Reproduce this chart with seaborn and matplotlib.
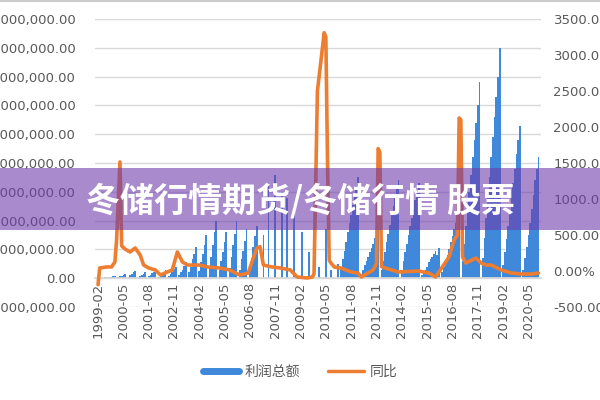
import numpy as np
import pandas as pd
import matplotlib
matplotlib.use("Agg")
import matplotlib.pyplot as plt
import seaborn as sns
from matplotlib.lines import Line2D
from matplotlib.patches import Rectangle
from matplotlib.ticker import FuncFormatter

nan = np.nan

# ---------------- data ----------------
START = "1999-02"
# 利润总额 (in millions), monthly; 1999 list starts in February, others Jan..Dec
profit_1999 = [nan, 0.01, 0.02, 0.02, 0.03, nan, 0.02, 0.04, 0.05, 0.06, 0.08]
profit_2000 = [nan, 0.03, 0.06, 0.09, 0.12, 0.15, nan, 0.05, 0.10, 0.15, 0.20, 0.25]
profit_2001 = [nan, 0.04, 0.08, 0.12, 0.16, 0.20, nan, 0.06, 0.11, 0.17, 0.22, 0.28]
profit_2002 = [nan, 0.05, 0.10, 0.15, 0.22, 0.30, nan, 0.07, 0.15, 0.23, 0.31, 0.40]
profit_2003 = [nan, 0.10, 0.20, 0.30, 0.42, 0.55, nan, 0.20, 0.40, 0.65, 0.85, 1.10]
profit_2004 = [nan, 0.25, 0.55, 0.85, 1.15, 1.50, nan, 0.35, 0.75, 1.15, 1.60, 2.00]
profit_2005 = [nan, 0.30, 0.60, 0.90, 1.25, 1.60, nan, 0.35, 0.75, 1.15, 1.55, 2.00]
profit_2006 = [nan, 0.30, 0.65, 0.95, 1.30, 1.70, nan, 0.30, 0.70, 1.10, 1.45, 1.80]
profit_2007 = [nan, nan, nan, 1.50, nan, nan, 3.30, nan, nan, nan, 3.60, nan]
profit_2008 = [nan, nan, 3.00, nan, nan, 2.80, nan, nan, nan, 2.50, nan, nan]
profit_2009 = [nan, nan, 1.60, nan, nan, nan, 0.90, nan, nan, nan, nan, nan]
profit_2010 = [0.40, nan, nan, nan, 1.70, nan, nan, 0.30, nan, nan, nan, 0.50]
profit_2011 = [nan, 0.35, 0.65, 0.95, 1.25, 1.60, 1.90, 2.20, 2.55, 2.85, 3.20, 3.50]
profit_2012 = [nan, 0.15, 0.30, 0.45, 0.60, 0.75, 0.90, 1.05, 1.20, 1.40, 1.60, 1.80]
profit_2013 = [nan, 0.30, 0.60, 0.90, 1.25, 1.55, 1.85, 2.20, 2.50, 2.80, 3.10, 3.40]
profit_2014 = [nan, 0.30, 0.60, 0.90, 1.20, 1.50, 1.80, 2.10, 2.40, 2.70, 3.00, 3.30]
profit_2015 = [nan, 0.10, 0.20, 0.30, 0.40, 0.55, 0.65, 0.75, 0.85, 0.95, 0.80, 1.05]
profit_2016 = [nan, 0.20, 0.40, 0.60, 0.80, 1.00, 1.25, 1.45, 1.70, 1.90, 2.10, 2.30]
profit_2017 = [nan, 0.60, 1.20, 1.80, 2.40, 3.00, 3.60, 4.20, 4.80, 5.40, 6.00, 6.80]
profit_2018 = [nan, 0.70, 1.40, 2.10, 2.80, 3.50, 4.20, 4.90, 5.60, 6.30, 7.00, 8.00]
profit_2019 = [nan, 0.45, 0.90, 1.35, 1.80, 2.30, 2.80, 3.30, 3.80, 4.30, 4.80, 5.30]
profit_2020 = [nan, 0.30, 0.70, 1.10, 1.50, 1.90, 2.40, 2.90, 3.40, 3.80, 4.20, nan]

# 同比 (%)
yoy_months = ["1999-02", "1999-03", "1999-07", "1999-10", "1999-12", "2000-01", "2000-03",
              "2000-04", "2000-06", "2000-09", "2000-12", "2001-03", "2001-05", "2001-08",
              "2001-12", "2002-03", "2002-07", "2002-10", "2003-01", "2003-04", "2003-07",
              "2004-02", "2004-07", "2005-02", "2005-08", "2006-02", "2006-07", "2006-12",
              "2007-02", "2007-04", "2007-09", "2008-02", "2008-08", "2008-12", "2009-06",
              "2009-09", "2009-10", "2009-12", "2010-02", "2010-04", "2010-05", "2010-06",
              "2010-07", "2010-08", "2010-10", "2011-02", "2011-08", "2011-12", "2012-02",
              "2012-06", "2012-09", "2012-11", "2012-12", "2013-01", "2013-02", "2013-04",
              "2013-12", "2014-12", "2015-06", "2015-10", "2016-02", "2016-06", "2016-09",
              "2016-11", "2016-12", "2017-01", "2017-02", "2017-04", "2017-10", "2018-01",
              "2018-04", "2018-07", "2019-01", "2019-07", "2020-01", "2020-07", "2020-11"]
yoy_values = [-190, 42, 56, 56, 125, 430, 1514,
              350, 305, 264, 319, 222, 83, 42,
              14, -56, -14, 14, 264, 125, 83,
              83, 56, 42, 14, -56, -28, 315,
              338, 83, 56, 42, 14, -83, -97,
              -83, -40, 2500, 2900, 3310, 3250, 1500,
              150, 111, 56, 40, -14, -28, -83,
              -28, 14, 100, 1700, 1650, 60, 42,
              -14, 0, -28, -83, 56, 194, 430,
              500, 2125, 2100, 194, 111, 180, 111,
              83, 83, 14, -28, -42, -42, -28]

left_ticks = list(range(-1, 10))
right_ticks = list(range(-500, 3501, 500))
label_step = 15

# ---------------- build ----------------
BLUE = "#3f88da"
ORANGE = "#ed7d31"
GREY = "#595959"

profit = (profit_1999 + profit_2000 + profit_2001 + profit_2002 + profit_2003 + profit_2004
          + profit_2005 + profit_2006 + profit_2007 + profit_2008 + profit_2009 + profit_2010
          + profit_2011 + profit_2012 + profit_2013 + profit_2014 + profit_2015 + profit_2016
          + profit_2017 + profit_2018 + profit_2019 + profit_2020)
start = pd.Period(START, freq="M")
periods = pd.period_range(START, periods=len(profit), freq="M")
df = pd.DataFrame({"m": np.arange(len(profit)), "v": profit}).dropna()
yoy_m = [(pd.Period(s, freq="M") - start).n for s in yoy_months]

sns.set_theme(style="white")
plt.rcParams["font.family"] = ["DejaVu Sans", "Noto Sans CJK SC"]

fig = plt.figure(figsize=(6, 4), dpi=100)
ax = fig.add_axes([95 / 600, 93 / 400, 446 / 600, 288 / 400])

sns.barplot(data=df, x="m", y="v", native_scale=True, width=1.0, color=BLUE,
            saturation=1, errorbar=None, linewidth=0, ax=ax)
for p in ax.patches:
    p.set_antialiased(False)
ax.set_xlim(-1.8, 262.5)
ax.set_ylim(left_ticks[0], left_ticks[-1])
ax.set_yticks(left_ticks)
ax.yaxis.set_major_formatter(FuncFormatter(lambda v, p: f"{v * 1_000_000:,.2f}"))
ax.yaxis.grid(True, color="#d9d9d9", lw=1)
ax.xaxis.grid(False)
ax.set_axisbelow(True)
for s in ["top", "right", "left"]:
    ax.spines[s].set_visible(False)
ax.spines["bottom"].set_position(("data", 0))
ax.spines["bottom"].set_color("#d9d9d9")
xt = list(range(0, len(profit), label_step))
ax.set_xticks(xt)
ax.set_xticklabels([str(periods[i]) for i in xt], rotation=90)
ax.tick_params(axis="x", length=0, pad=3, labelsize=9.5, labelcolor=GREY)
ax.tick_params(axis="y", length=0, pad=14, labelsize=9.5, labelcolor=GREY)
ax.set_xlabel("")
ax.set_ylabel("")

ax2 = ax.twinx()
sns.lineplot(x=yoy_m, y=yoy_values, ax=ax2, color=ORANGE, linewidth=2.6)
ax2.set_ylim(right_ticks[0], right_ticks[-1])
ax2.set_yticks(right_ticks)
ax2.yaxis.set_major_formatter(FuncFormatter(lambda v, p: f"{v:.2f}%"))
ax2.tick_params(axis="y", length=0, pad=9, labelsize=9.5, labelcolor=GREY)
for s in ax2.spines.values():
    s.set_visible(False)
ax2.grid(False)
ax2.set_xlim(-1.8, 262.5)

handles = [Line2D([0], [0], color=BLUE, lw=5), Line2D([0], [0], color=ORANGE, lw=2.5)]
fig.legend(handles, ["利润总额", "同比"], loc="center", bbox_to_anchor=(0.5, 0.07), ncol=2,
           frameon=False, prop={"family": "Noto Sans CJK SC", "size": 10},
           handlelength=2.6, columnspacing=2.0, handletextpad=0.4, labelcolor=GREY)

# banner overlay
fig.add_artist(Rectangle((0, 0.425), 1, 0.155, transform=fig.transFigure,
                         facecolor=(110 / 255, 60 / 255, 172 / 255), alpha=0.6,
                         edgecolor="none", zorder=10))
fig.text(0.5, 0.4975, "冬储行情期货/冬储行情 股票", ha="center", va="center", color="white",
         fontsize=24.5, fontweight="bold", family=["Noto Sans CJK SC"], zorder=11)
fig.add_artist(Line2D([0, 1], [0.997, 0.997], transform=fig.transFigure, color="#cccccc", lw=1.5))

fig.savefig("out.png", dpi=100)
